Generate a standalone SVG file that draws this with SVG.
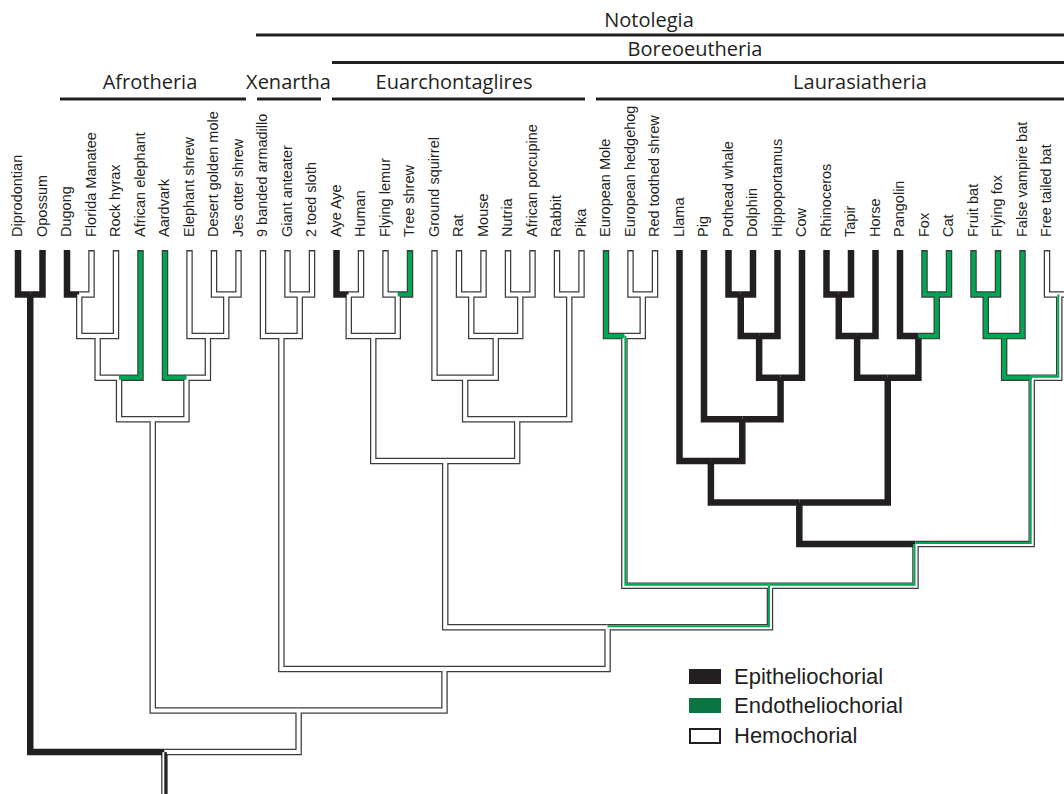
<svg xmlns="http://www.w3.org/2000/svg" width="1064" height="794" viewBox="0 0 1064 794">
<style>
.hdr{font-family:"Open Sans","Liberation Sans",sans-serif;font-size:20px;fill:#231f20;text-anchor:middle}
.lbl{font-family:"Liberation Sans",Arial,sans-serif;font-size:14.5px;fill:#231f20}
.leg{font-family:"Liberation Sans",Arial,sans-serif;font-size:22px;fill:#231f20}
.hl{stroke:#231f20;stroke-width:2.8;fill:none}
.o path{fill:none;stroke:#3b3b3b;stroke-width:6.5;stroke-linejoin:miter}
.b path{fill:none;stroke:#231f20;stroke-width:6.5;stroke-linejoin:miter}
.w path{fill:none;stroke:#fff;stroke-width:4;stroke-linejoin:miter}
.g path{fill:none;stroke:#00a651;stroke-width:4.2;stroke-linejoin:miter}
.gm path{fill:none;stroke:#00a651;stroke-width:2;stroke-linejoin:miter}
</style>
<rect width="1064" height="794" fill="#fff"/>

<g id="clades">
<g id="clade-notolegia"><text class="hdr" x="649" y="27">Notolegia</text><line class="hl" x1="256" y1="35" x2="1064" y2="35"/></g>
<g id="clade-boreoeutheria"><text class="hdr" x="695" y="56">Boreoeutheria</text><line class="hl" x1="332" y1="62.5" x2="1064" y2="62.5"/></g>
<g id="clade-afrotheria"><text class="hdr" x="150" y="89">Afrotheria</text><line class="hl" x1="60" y1="99" x2="246" y2="99"/></g>
<g id="clade-xenartha"><text class="hdr" x="288.5" y="89">Xenartha</text><line class="hl" x1="257" y1="99" x2="321" y2="99"/></g>
<g id="clade-euarchontaglires"><text class="hdr" x="454" y="89">Euarchontaglires</text><line class="hl" x1="332" y1="99" x2="585" y2="99"/></g>
<g id="clade-laurasiatheria"><text class="hdr" x="860" y="89">Laurasiatheria</text><line class="hl" x1="596" y1="99" x2="1064" y2="99"/></g>
</g>

<g id="leaves">
<g id="leaf-diprodontian"><text class="lbl" transform="translate(22,237) rotate(-90)">Diprodontian</text></g>
<g id="leaf-opossum"><text class="lbl" transform="translate(46.5,237) rotate(-90)">Opossum</text></g>
<g id="leaf-dugong"><text class="lbl" transform="translate(71,237) rotate(-90)">Dugong</text></g>
<g id="leaf-florida-manatee"><text class="lbl" transform="translate(95.5,237) rotate(-90)">Florida Manatee</text></g>
<g id="leaf-rock-hyrax"><text class="lbl" transform="translate(120,237) rotate(-90)">Rock hyrax</text></g>
<g id="leaf-african-elephant"><text class="lbl" transform="translate(144.5,237) rotate(-90)">African elephant</text></g>
<g id="leaf-aardvark"><text class="lbl" transform="translate(169,237) rotate(-90)">Aardvark</text></g>
<g id="leaf-elephant-shrew"><text class="lbl" transform="translate(193.5,237) rotate(-90)">Elephant shrew</text></g>
<g id="leaf-desert-golden-mole"><text class="lbl" transform="translate(218,237) rotate(-90)">Desert golden mole</text></g>
<g id="leaf-jes-otter-shrew"><text class="lbl" transform="translate(242.5,237) rotate(-90)">Jes otter shrew</text></g>
<g id="leaf-9-banded-armadillo"><text class="lbl" transform="translate(267,237) rotate(-90)">9 banded armadillo</text></g>
<g id="leaf-giant-anteater"><text class="lbl" transform="translate(291.5,237) rotate(-90)">Giant anteater</text></g>
<g id="leaf-2-toed-sloth"><text class="lbl" transform="translate(316,237) rotate(-90)">2 toed sloth</text></g>
<g id="leaf-aye-aye"><text class="lbl" transform="translate(340.5,237) rotate(-90)">Aye Aye</text></g>
<g id="leaf-human"><text class="lbl" transform="translate(365,237) rotate(-90)">Human</text></g>
<g id="leaf-flying-lemur"><text class="lbl" transform="translate(389.5,237) rotate(-90)">Flying lemur</text></g>
<g id="leaf-tree-shrew"><text class="lbl" transform="translate(414,237) rotate(-90)">Tree shrew</text></g>
<g id="leaf-ground-squirrel"><text class="lbl" transform="translate(438.5,237) rotate(-90)">Ground squirrel</text></g>
<g id="leaf-rat"><text class="lbl" transform="translate(463,237) rotate(-90)">Rat</text></g>
<g id="leaf-mouse"><text class="lbl" transform="translate(487.5,237) rotate(-90)">Mouse</text></g>
<g id="leaf-nutria"><text class="lbl" transform="translate(512,237) rotate(-90)">Nutria</text></g>
<g id="leaf-african-porcupine"><text class="lbl" transform="translate(536.5,237) rotate(-90)">African porcupine</text></g>
<g id="leaf-rabbit"><text class="lbl" transform="translate(561,237) rotate(-90)">Rabbit</text></g>
<g id="leaf-pika"><text class="lbl" transform="translate(585.5,237) rotate(-90)">Pika</text></g>
<g id="leaf-european-mole"><text class="lbl" transform="translate(610,237) rotate(-90)">European Mole</text></g>
<g id="leaf-european-hedgehog"><text class="lbl" transform="translate(634.5,237) rotate(-90)">European hedgehog</text></g>
<g id="leaf-red-toothed-shrew"><text class="lbl" transform="translate(659,237) rotate(-90)">Red toothed shrew</text></g>
<g id="leaf-llama"><text class="lbl" transform="translate(683.5,237) rotate(-90)">Llama</text></g>
<g id="leaf-pig"><text class="lbl" transform="translate(708,237) rotate(-90)">Pig</text></g>
<g id="leaf-pothead-whale"><text class="lbl" transform="translate(732.5,237) rotate(-90)">Pothead whale</text></g>
<g id="leaf-dolphin"><text class="lbl" transform="translate(757,237) rotate(-90)">Dolphin</text></g>
<g id="leaf-hippoportamus"><text class="lbl" transform="translate(781.5,237) rotate(-90)">Hippoportamus</text></g>
<g id="leaf-cow"><text class="lbl" transform="translate(806,237) rotate(-90)">Cow</text></g>
<g id="leaf-rhinoceros"><text class="lbl" transform="translate(830.5,237) rotate(-90)">Rhinoceros</text></g>
<g id="leaf-tapir"><text class="lbl" transform="translate(855,237) rotate(-90)">Tapir</text></g>
<g id="leaf-horse"><text class="lbl" transform="translate(879.5,237) rotate(-90)">Horse</text></g>
<g id="leaf-pangolin"><text class="lbl" transform="translate(904,237) rotate(-90)">Pangolin</text></g>
<g id="leaf-fox"><text class="lbl" transform="translate(928.5,237) rotate(-90)">Fox</text></g>
<g id="leaf-cat"><text class="lbl" transform="translate(953,237) rotate(-90)">Cat</text></g>
<g id="leaf-fruit-bat"><text class="lbl" transform="translate(977.5,237) rotate(-90)">Fruit bat</text></g>
<g id="leaf-flying-fox"><text class="lbl" transform="translate(1002,237) rotate(-90)">Flying fox</text></g>
<g id="leaf-false-vampire-bat"><text class="lbl" transform="translate(1026.5,237) rotate(-90)">False vampire bat</text></g>
<g id="leaf-free-tailed-bat"><text class="lbl" transform="translate(1051,237) rotate(-90)">Free tailed bat</text></g>
</g>

<g id="connectors">
<g class="o">
<!-- white & green & mixed outlines -->
<path d="M91.5,250V294.5H79.25"/><path d="M116,250V336.1H97.63"/><path d="M189.5,250V336.1H207.88"/>
<path d="M214,250V294.5H226.25"/><path d="M238.5,250V294.5H226.25"/><path d="M263,250V336.1H281.38"/>
<path d="M287.5,250V294.5H299.75"/><path d="M312,250V294.5H299.75"/><path d="M361,250V294.5H348.75"/>
<path d="M385.5,250V294.5H397.75"/><path d="M434.5,250V377.7H465.13"/><path d="M459,250V294.5H471.25"/>
<path d="M483.5,250V294.5H471.25"/><path d="M508,250V294.5H520.25"/><path d="M532.5,250V294.5H520.25"/>
<path d="M557,250V294.5H569.25"/><path d="M581.5,250V294.5H569.25"/><path d="M630.5,250V294.5H642.75"/>
<path d="M655,250V294.5H642.75"/><path d="M1047,250V294.5H1059.25"/><path d="M1071.5,250V294.5H1059.25"/>
<path d="M79.25,294.5V336.1H97.63"/><path d="M97.63,336.1V377.7H119.06"/><path d="M119.06,377.7V419.3H152.75"/>
<path d="M226.25,294.5V336.1H207.88"/><path d="M207.88,336.1V377.7H186.44"/><path d="M186.44,377.7V419.3H152.75"/>
<path d="M152.75,419.3V710.5H298.61"/><path d="M299.75,294.5V336.1H281.38"/><path d="M281.38,336.1V668.9H444.48"/>
<path d="M348.75,294.5V336.1H373.25"/><path d="M397.75,294.5V336.1H373.25"/><path d="M373.25,336.1V460.9H445.22"/>
<path d="M471.25,294.5V336.1H495.75"/><path d="M520.25,294.5V336.1H495.75"/><path d="M495.75,336.1V377.7H465.13"/>
<path d="M465.13,377.7V419.3H517.19"/><path d="M569.25,294.5V419.3H517.19"/><path d="M517.19,419.3V460.9H445.22"/>
<path d="M445.22,460.9V627.3H607.58"/><path d="M642.75,294.5V336.1H624.38"/><path d="M607.58,627.3V668.9H444.48"/>
<path d="M444.48,668.9V710.5H298.61"/><path d="M298.61,710.5V752.1H164.43"/>
<path d="M140.5,250V377.7H119.06"/><path d="M165,250V377.7H186.44"/><path d="M410,250V294.5H397.75"/>
<path d="M606,250V336.1H624.38"/><path d="M924.5,250V294.5H936.75"/><path d="M949,250V294.5H936.75"/>
<path d="M973.5,250V294.5H985.75"/><path d="M998,250V294.5H985.75"/><path d="M1022.5,250V336.1H1004.13"/>
<path d="M936.75,294.5V336.1H918.38"/><path d="M985.75,294.5V336.1H1004.13"/><path d="M1004.13,336.1V377.7H1031.69"/>
<path d="M624.38,336.1V585.7H769.94"/><path d="M915.5,544.1V585.7H769.94"/><path d="M1031.69,377.7V544.1H915.5"/>
<path d="M1059.25,294.5V377.7H1031.69"/><path d="M769.94,585.7V627.3H607.58"/><path d="M164.43,752.1V800"/>
</g>
<g class="b">
<path d="M18,250V294.5H30.25"/><path d="M42.5,250V294.5H30.25"/><path d="M67,250V294.5H79.25"/>
<path d="M336.5,250V294.5H348.75"/><path d="M679.5,250V460.9H710.89"/><path d="M704,250V419.3H742.28"/>
<path d="M728.5,250V294.5H740.75"/><path d="M753,250V294.5H740.75"/><path d="M777.5,250V336.1H759.13"/>
<path d="M802,250V377.7H780.56"/><path d="M826.5,250V294.5H838.75"/><path d="M851,250V294.5H838.75"/>
<path d="M875.5,250V336.1H857.13"/><path d="M900,250V336.1H918.38"/>
<path d="M30.25,294.5V752.1H164.43"/><path d="M740.75,294.5V336.1H759.13"/><path d="M759.13,336.1V377.7H780.56"/>
<path d="M780.56,377.7V419.3H742.28"/><path d="M742.28,419.3V460.9H710.89"/><path d="M710.89,460.9V502.5H799.32"/>
<path d="M838.75,294.5V336.1H857.13"/><path d="M857.13,336.1V377.7H887.75"/><path d="M918.38,336.1V377.7H887.75"/>
<path d="M887.75,377.7V502.5H799.32"/><path d="M799.32,502.5V544.1H915.5"/>
</g>
<g class="w">
<path d="M91.5,251.5V294.5H79.25"/><path d="M116,251.5V336.1H97.63"/><path d="M189.5,251.5V336.1H207.88"/>
<path d="M214,251.5V294.5H226.25"/><path d="M238.5,251.5V294.5H226.25"/><path d="M263,251.5V336.1H281.38"/>
<path d="M287.5,251.5V294.5H299.75"/><path d="M312,251.5V294.5H299.75"/><path d="M361,251.5V294.5H348.75"/>
<path d="M385.5,251.5V294.5H397.75"/><path d="M434.5,251.5V377.7H465.13"/><path d="M459,251.5V294.5H471.25"/>
<path d="M483.5,251.5V294.5H471.25"/><path d="M508,251.5V294.5H520.25"/><path d="M532.5,251.5V294.5H520.25"/>
<path d="M557,251.5V294.5H569.25"/><path d="M581.5,251.5V294.5H569.25"/><path d="M630.5,251.5V294.5H642.75"/>
<path d="M655,251.5V294.5H642.75"/><path d="M1047,251.5V294.5H1059.25"/><path d="M1071.5,251.5V294.5H1059.25"/>
<path d="M79.25,294.5V336.1H97.63"/><path d="M97.63,336.1V377.7H119.06"/><path d="M119.06,377.7V419.3H152.75"/>
<path d="M226.25,294.5V336.1H207.88"/><path d="M207.88,336.1V377.7H186.44"/><path d="M186.44,377.7V419.3H152.75"/>
<path d="M152.75,419.3V710.5H298.61"/><path d="M299.75,294.5V336.1H281.38"/><path d="M281.38,336.1V668.9H444.48"/>
<path d="M348.75,294.5V336.1H373.25"/><path d="M397.75,294.5V336.1H373.25"/><path d="M373.25,336.1V460.9H445.22"/>
<path d="M471.25,294.5V336.1H495.75"/><path d="M520.25,294.5V336.1H495.75"/><path d="M495.75,336.1V377.7H465.13"/>
<path d="M465.13,377.7V419.3H517.19"/><path d="M569.25,294.5V419.3H517.19"/><path d="M517.19,419.3V460.9H445.22"/>
<path d="M445.22,460.9V627.3H607.58"/><path d="M642.75,294.5V336.1H624.38"/><path d="M607.58,627.3V668.9H444.48"/>
<path d="M444.48,668.9V710.5H298.61"/><path d="M298.61,710.5V752.1H164.43"/>
<path d="M624.38,336.1V585.7H769.94"/><path d="M915.5,544.1V585.7H769.94"/><path d="M1031.69,377.7V544.1H915.5"/>
<path d="M1059.25,294.5V377.7H1031.69"/><path d="M769.94,585.7V627.3H607.58"/><path d="M164.43,752.1V800"/>
</g>
<g class="g">
<path d="M140.5,251.5V377.7H119.06"/><path d="M165,251.5V377.7H186.44"/><path d="M410,251.5V294.5H397.75"/>
<path d="M606,251.5V336.1H624.38"/><path d="M924.5,251.5V294.5H936.75"/><path d="M949,251.5V294.5H936.75"/>
<path d="M973.5,251.5V294.5H985.75"/><path d="M998,251.5V294.5H985.75"/><path d="M1022.5,251.5V336.1H1004.13"/>
<path d="M936.75,294.5V336.1H918.38"/><path d="M985.75,294.5V336.1H1004.13"/><path d="M1004.13,336.1V377.7H1031.69"/>
</g>
<g class="gm">
<path d="M625.38,336.1V584.7H769.94"/><path d="M914.5,544.1V584.7H769.94"/><path d="M1030.69,377.7V543.1H915.5"/>
<path d="M1058.25,294.5V376.7H1031.69"/><path d="M768.94,585.7V626.3H607.58"/>
</g>
<path d="M165.6,752.1V800" fill="none" stroke="#231f20" stroke-width="2.6"/>
</g>

<g id="legend">
<g id="legend-epitheliochorial"><rect x="689" y="669" width="32" height="15" fill="#231f20"/><text class="leg" x="734" y="684">Epitheliochorial</text></g>
<g id="legend-endotheliochorial"><rect x="689" y="698" width="32" height="15" fill="#0b7443"/><text class="leg" x="734" y="713">Endotheliochorial</text></g>
<g id="legend-hemochorial"><rect x="690" y="729" width="30" height="14" fill="#fff" stroke="#231f20" stroke-width="2"/><text class="leg" x="734" y="743">Hemochorial</text></g>
</g>
</svg>
